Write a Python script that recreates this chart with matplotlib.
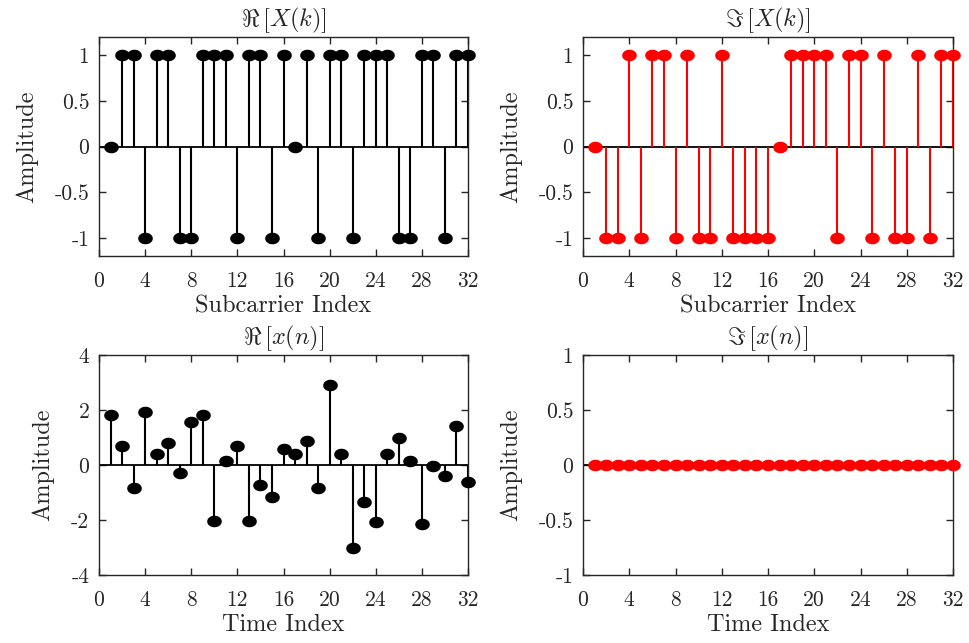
import numpy as np
import matplotlib
matplotlib.use("Agg")
import matplotlib.pyplot as plt
from matplotlib.path import Path

# ---------------- data ----------------
k = list(range(1, 33))
n = list(range(1, 33))
re_X = [0, 1, 1, -1, 1, 1, -1, -1, 1, 1, 1, -1, 1, 1, -1, 1,
        0, 1, -1, 1, 1, -1, 1, 1, 1, -1, -1, 1, 1, -1, 1, 1]
im_X = [0, -1, -1, 1, -1, 1, 1, -1, 1, -1, -1, 1, -1, -1, -1, -1,
        0, 1, 1, 1, 1, -1, 1, 1, -1, 1, -1, -1, 1, -1, 1, 1]
re_x = [1.82, 0.69, -0.85, 1.94, 0.39, 0.81, -0.30, 1.55, 1.82, -2.02,
        0.15, 0.69, -2.02, -0.73, -1.16, 0.57, 0.39, 0.88, -0.85, 2.92,
        0.39, -3.02, -1.36, -2.08, 0.39, 1.00, 0.15, -2.15, -0.05, -0.41,
        1.43, -0.61]
im_x = [0.0] * 32

xticks = [0, 4, 8, 12, 16, 20, 24, 28, 32]
yticks_pm1 = [-1, -0.5, 0, 0.5, 1]
yticks_pm1_labels = ['-1', '-0.5', '0', '0.5', '1']
yticks_4 = [-4, -2, 0, 2, 4]
yticks_4_labels = ['-4', '-2', '0', '2', '4']

titles = [r'$\Re\,\left[X(k)\right]$', r'$\Im\,\left[X(k)\right]$',
          r'$\Re\,\left[x(n)\right]$', r'$\Im\,\left[x(n)\right]$']
xlabels = ['Subcarrier Index', 'Subcarrier Index', 'Time Index', 'Time Index']
ylabel = 'Amplitude'

# ---------------- style ----------------
plt.rcParams['font.family'] = 'serif'
plt.rcParams['font.serif'] = ['cmr10', 'DejaVu Serif']
plt.rcParams['mathtext.fontset'] = 'cm'
plt.rcParams['axes.unicode_minus'] = False

FS_T = 15.5
FS_L = 17.5
AXC = (0.15, 0.15, 0.15)

th = np.linspace(0, 2 * np.pi, 64)
ell = Path(np.column_stack([1.3 * np.cos(th), np.sin(th)]), closed=True)

fig = plt.figure(figsize=(9.69, 6.43), dpi=100)

W, H = 969.0, 643.0
boxes = [(99, 37, 468, 256), (583, 37, 953, 256),
         (99, 355, 468, 575), (583, 355, 953, 575)]
axes = []
for (x0, y0, x1, y1) in boxes:
    axes.append(fig.add_axes([x0 / W, 1 - y1 / H, (x1 - x0) / W, (y1 - y0) / H]))

series = [(k, re_X, 'black'), (k, im_X, 'red'), (n, re_x, 'black'), (n, im_x, 'red')]
ylims = [(-1.2, 1.2), (-1.2, 1.2), (-4, 4), (-1, 1)]
yt = [(yticks_pm1, yticks_pm1_labels), (yticks_pm1, yticks_pm1_labels),
      (yticks_4, yticks_4_labels), (yticks_pm1, yticks_pm1_labels)]

for i, ax in enumerate(axes):
    xs, ys, c = series[i]
    ax.axhline(0, color='black', lw=1.3, zorder=2)
    ax.vlines(xs, 0, ys, colors=c, lw=1.5, zorder=3)
    ax.plot(xs, ys, linestyle='none', marker=ell, markersize=9.5,
            color=c, markeredgecolor=c, zorder=4, clip_on=False)
    ax.set_xlim(0, 32)
    ax.set_ylim(*ylims[i])
    ax.set_xticks(xticks)
    ax.set_xticklabels([str(t) for t in xticks])
    ax.set_yticks(yt[i][0])
    ax.set_yticklabels(yt[i][1])
    ax.tick_params(direction='in', top=True, right=True, length=5, width=1,
                   colors=AXC, labelsize=FS_T, labelcolor=AXC)
    ax.tick_params(axis='x', pad=11)
    ax.tick_params(axis='y', pad=7)
    for s in ax.spines.values():
        s.set_color(AXC)
        s.set_linewidth(1.0)
    ax.set_title(titles[i], fontsize=FS_L, color=AXC, pad=8)
    ax.set_xlabel(xlabels[i], fontsize=FS_L, color=AXC, labelpad=3)
    ax.set_ylabel(ylabel, fontsize=FS_L, color=AXC, labelpad=12)

fig.savefig('out.png', dpi=100)
